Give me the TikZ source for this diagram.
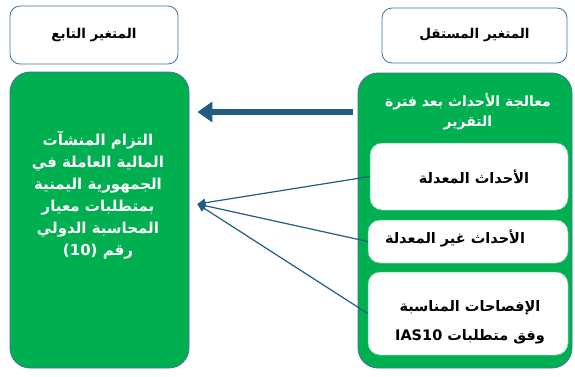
\documentclass[tikz,border=0pt]{standalone}
\usepackage{fontspec}
\TeXXeTstate=1
\newfontfamily\arabicfont[Script=Arabic]{DejaVu Sans}
\usetikzlibrary{arrows.meta}
\definecolor{boxgreen}{RGB}{0,176,80}
\definecolor{arrowblue}{RGB}{31,93,132}
\definecolor{edgeblue}{RGB}{65,113,156}

\begin{document}
\begin{tikzpicture}[x=1pt,y=-1pt]
\tikzstyle{title box}=
[
    %Boxes naming the two variables
    draw=edgeblue, line width=0.8pt, fill=white, rounded corners=10pt,
    font=\arabicfont\bfseries\fontsize{13.5}{16}\selectfont
    ]
\tikzstyle{green box}=
[
    %Large green panels
    draw=edgeblue, line width=0.8pt, fill=boxgreen, rounded corners=20pt
    ]
\tikzstyle{item box}=
[
    %White panels inside the right green box
    draw=boxgreen!60!white, line width=0.5pt, fill=white, rounded corners=12pt
    ]
\tikzstyle{white text}=[text=white, align=center, font=\arabicfont\bfseries\fontsize{15}{22}\selectfont]
\tikzstyle{black text}=[text=black, align=center, font=\arabicfont\bfseries\fontsize{14.5}{29}\selectfont]
\tikzstyle{thin arrow}=[draw=arrowblue, line width=1.2pt, -{Triangle[length=8pt,width=8pt]}]
\tikzstyle{thick arrow}=[draw=arrowblue, line width=6pt, -{Triangle[length=15pt,width=20pt]}]

\useasboundingbox (0,0) rectangle (575,376);

%Top labels
\node[title box, minimum width=168pt, minimum height=58pt] (deplabel) at (94,35) {\beginR المتغير التابع\endR};
\node[title box, minimum width=185pt, minimum height=55pt] (indeplabel) at (474.5,35.5) {\beginR المتغير المستقل\endR};

%Dependent variable
\node[green box, minimum width=179pt, minimum height=296pt] (dep) at (99.5,220) {};
\node[white text] (deptext) at (98,195)
{\beginR التزام المنشآت\endR\\
 \beginR المالية العاملة في\endR\\
 \beginR الجمهورية اليمنية\endR\\
 \beginR بمتطلبات معيار\endR\\
 \beginR المحاسبة الدولي\endR\\
 \beginR رقم \beginL(10)\endL\endR};

%Independent variable
\node[green box, minimum width=214pt, minimum height=295pt] (indep) at (465,220.5) {};
\node[white text, font=\arabicfont\bfseries\fontsize{14}{20}\selectfont] (indeptext) at (468,112)
{\beginR معالجة الأحداث بعد فترة\endR\\
 \beginR التقرير\endR};
\node[item box, minimum width=198pt, minimum height=67pt] (adjusting) at (469,176.5) {};
\node[black text] at (474,177) {\beginR الأحداث المعدلة\endR};
\node[item box, minimum width=200pt, minimum height=43pt] (nonadjusting) at (468,241.5) {};
\node[black text] at (455,238) {\beginR الأحداث غير المعدلة\endR};
\node[item box, minimum width=200pt, minimum height=83pt] (disclosure) at (468,313.5) {};
\node[black text] at (470,322)
{\beginR الإفصاحات المناسبة\endR\\
 \beginR وفق متطلبات \beginL IAS10\endL\endR};

%Arrows
\coordinate (bigtail) at ([xshift=-5pt]indep.west |- 0,112);
\coordinate (bighead) at ([xshift=8pt]dep.east |- 0,112);
\coordinate (meet) at ([xshift=8pt]dep.east |- 0,204);
\draw[thick arrow] (bigtail) -- (bighead);
\draw[thin arrow] (adjusting.west) -- (meet);
\draw[thin arrow] (nonadjusting.west) -- (meet);
\draw[thin arrow] (disclosure.west) -- (meet);
\end{tikzpicture}
\end{document}
